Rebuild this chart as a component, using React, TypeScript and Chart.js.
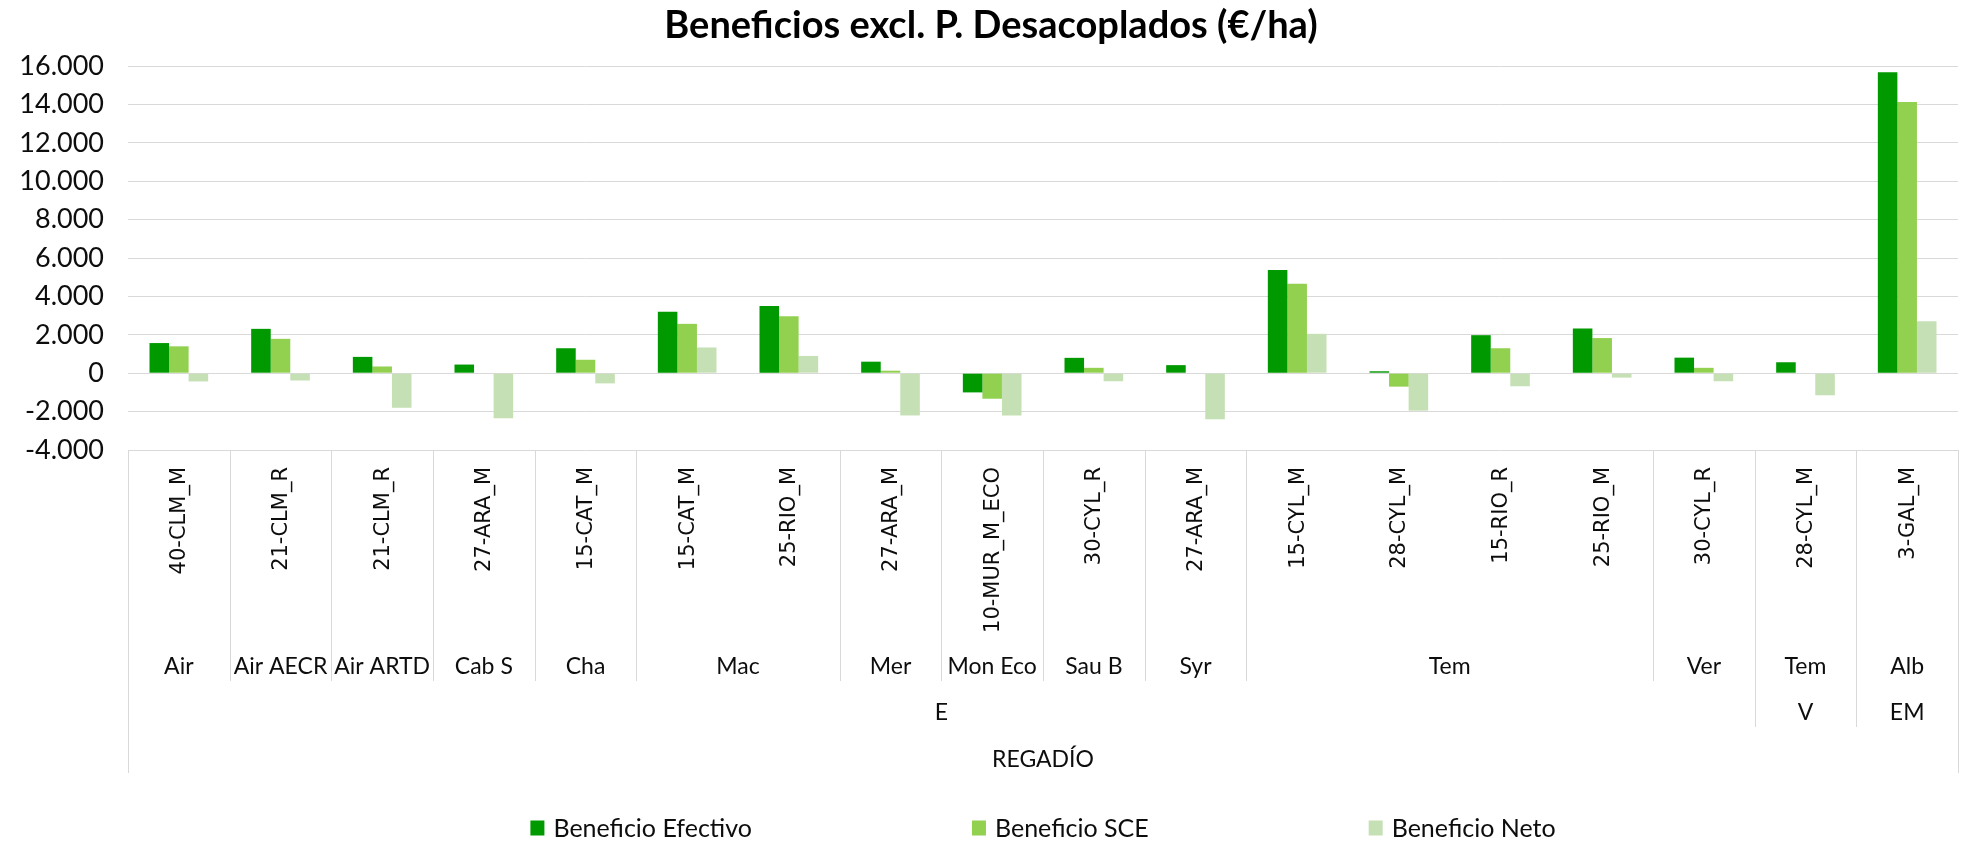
import React, { useEffect, useRef } from 'react';
import { Chart, registerables } from 'chart.js';

Chart.register(...registerables);

// ---------- DATA ----------
const chartTitle = 'Beneficios excl. P. Desacoplados (€/ha)';

const categories = [
  '40-CLM_M', '21-CLM_R', '21-CLM_R', '27-ARA_M', '15-CAT_M', '15-CAT_M', '25-RIO_M',
  '27-ARA_M', '10-MUR_M_ECO', '30-CYL_R', '27-ARA_M', '15-CYL_M', '28-CYL_M', '15-RIO_R',
  '25-RIO_M', '30-CYL_R', '28-CYL_M', '3-GAL_M',
];

const level2Labels = ['Air', 'Air AECR', 'Air ARTD', 'Cab S', 'Cha', 'Mac', 'Mer', 'Mon Eco', 'Sau B', 'Syr', 'Tem', 'Ver', 'Tem', 'Alb'];
const level2Spans = [1, 1, 1, 1, 1, 2, 1, 1, 1, 1, 4, 1, 1, 1];

const level3Labels = ['E', 'V', 'EM'];
const level3Spans = [16, 1, 1];

const level4Labels = ['REGADÍO'];
const level4Spans = [18];

const seriesNames = ['Beneficio Efectivo', 'Beneficio SCE', 'Beneficio Neto'];
const seriesColors = ['#009900', '#92D050', '#C5E0B4'];

const beneficioEfectivo = [1570, 2310, 850, 450, 1300, 3200, 3500, 600, -1000, 800, 420, 5370, 100, 1980, 2330, 810, 570, 15670];
const beneficioSCE = [1400, 1790, 350, 0, 700, 2570, 2970, 130, -1330, 280, 0, 4660, -700, 1300, 1830, 280, 0, 14120];
const beneficioNeto = [-430, -380, -1800, -2350, -530, 1340, 900, -2200, -2200, -420, -2400, 2050, -1950, -680, -230, -420, -1150, 2710];

const yMin = -4000;
const yMax = 16000;
const yStep = 2000;

// ---------- helpers ----------
function fmtThousands(v: number): string {
  const s = Math.abs(Math.round(v)).toString().replace(/\B(?=(\d{3})+(?!\d))/g, '.');
  return (v < 0 ? '-' : '') + s;
}

const FONT = 'Lato, "Open Sans", sans-serif';
const TEXT_COLOR = '#0d0d0d';
const LINE_COLOR = '#d9d9d9';

const multiAxisPlugin = {
  id: 'multiAxisPlugin',
  afterDraw(chart: any) {
    const ctx: CanvasRenderingContext2D = chart.ctx;
    const ca = chart.chartArea;
    const xs = chart.scales.x;
    const cw = xs.getPixelForValue(1) - xs.getPixelForValue(0);
    const edge = (i: number) => xs.getPixelForValue(i) - cw / 2;
    const base = ca.bottom;
    const n = categories.length;

    ctx.save();

    // boundaries and depth
    const depth: number[] = new Array(n + 1).fill(0);
    const mark = (spans: number[], d: number) => {
      let acc = 0;
      depth[0] = Math.max(depth[0], d);
      spans.forEach((s) => {
        acc += s;
        depth[acc] = Math.max(depth[acc], d);
      });
    };
    mark(level2Spans, 1);
    mark(level3Spans, 2);
    mark(level4Spans, 3);
    const depthBottom = [0, 231, 277, 323];

    ctx.strokeStyle = LINE_COLOR;
    ctx.lineWidth = 1;
    for (let i = 0; i <= n; i++) {
      if (!depth[i]) continue;
      const x = Math.round(edge(i)) + 0.5;
      ctx.beginPath();
      ctx.moveTo(x, base);
      ctx.lineTo(x, base + depthBottom[depth[i]]);
      ctx.stroke();
    }

    // rotated level-1 labels
    ctx.fillStyle = TEXT_COLOR;
    ctx.font = '21px "DejaVu Sans", sans-serif';
    ctx.textAlign = 'right';
    ctx.textBaseline = 'middle';
    categories.forEach((lab, i) => {
      const x = xs.getPixelForValue(i);
      ctx.save();
      ctx.translate(x + 1, base + 17);
      ctx.rotate(-Math.PI / 2);
      ctx.fillText(lab, 0, 0);
      ctx.restore();
    });

    // grouped levels
    const drawLevel = (labels: string[], spans: number[], yOff: number) => {
      ctx.font = `23px ${FONT}`;
      ctx.textAlign = 'center';
      ctx.textBaseline = 'middle';
      let acc = 0;
      labels.forEach((lab, k) => {
        const x0 = edge(acc);
        const x1 = edge(acc + spans[k]);
        ctx.fillText(lab, (x0 + x1) / 2, base + yOff);
        acc += spans[k];
      });
    };
    drawLevel(level2Labels, level2Spans, 217);
    drawLevel(level3Labels, level3Spans, 263);
    drawLevel(level4Labels, level4Spans, 310);

    // title
    ctx.font = `bold 38px ${FONT}`;
    ctx.textAlign = 'center';
    ctx.textBaseline = 'middle';
    ctx.fillStyle = '#000';
    ctx.fillText(chartTitle, chart.width / 2 + 8, 26);

    // legend
    ctx.font = `25px ${FONT}`;
    const box = 15;
    const boxGap = 8;
    const itemGap = 220;
    const widths = seriesNames.map((s) => box + boxGap + ctx.measureText(s).width);
    const total = widths.reduce((a, b) => a + b, 0) + itemGap * (seriesNames.length - 1);
    let lx = (ca.left + ca.right) / 2 - total / 2;
    const ly = 828;
    ctx.textAlign = 'left';
    seriesNames.forEach((s, k) => {
      ctx.fillStyle = seriesColors[k];
      ctx.fillRect(lx, ly - box / 2, box - 1, box);
      ctx.fillStyle = TEXT_COLOR;
      ctx.fillText(s, lx + box + boxGap, ly + 1);
      lx += widths[k] + itemGap;
    });

    ctx.restore();
  },
};

export default function App() {
  const canvasRef = useRef<HTMLCanvasElement | null>(null);

  useEffect(() => {
    document.body.style.margin = '0';
    const canvas = canvasRef.current;
    if (!canvas) return;
    Chart.defaults.font.family = FONT;

    const chart = new Chart(canvas, {
      type: 'bar',
      data: {
        labels: categories,
        datasets: [
          { label: seriesNames[0], data: beneficioEfectivo, backgroundColor: seriesColors[0] },
          { label: seriesNames[1], data: beneficioSCE, backgroundColor: seriesColors[1] },
          { label: seriesNames[2], data: beneficioNeto, backgroundColor: seriesColors[2] },
        ].map((d) => ({ ...d, categoryPercentage: 0.577, barPercentage: 1.0, borderWidth: 0 })),
      },
      options: {
        responsive: false,
        animation: false,
        layout: { padding: { top: 66, bottom: 393, left: 0, right: 8 } },
        plugins: {
          legend: { display: false },
          title: { display: false },
          tooltip: { enabled: false },
        },
        scales: {
          x: {
            display: false,
          },
          y: {
            min: yMin,
            max: yMax,
            border: { display: false },
            grid: { color: LINE_COLOR, lineWidth: 1, drawTicks: false },
            afterFit: (scale: any) => {
              scale.width = 128;
            },
            ticks: {
              stepSize: yStep,
              padding: 24,
              color: TEXT_COLOR,
              font: { size: 27, family: FONT },
              callback: (v: any) => fmtThousands(Number(v)),
            },
          },
        },
      },
      plugins: [multiAxisPlugin],
    });

    return () => chart.destroy();
  }, []);

  return (
    <div style={{ width: 1966, height: 843 }}>
      <canvas ref={canvasRef} width={1966} height={843} style={{ display: 'block' }} />
    </div>
  );
}
